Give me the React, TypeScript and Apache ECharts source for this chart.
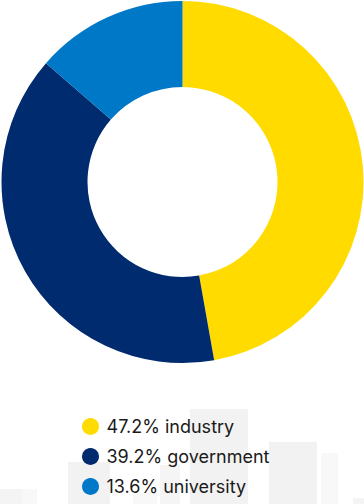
import React, { useEffect, useRef } from "react";
import * as echarts from "echarts";

const categories = ["industry", "government", "university"];
const values = [47.2, 39.2, 13.6];
const colors = ["#FFDB00", "#002B6E", "#0078C8"];

// decorative background blocks at the bottom: [x, y, w, h, color]
const blocks: [number, number, number, number, string][] = [
  [0, 489, 22, 15, "#f4f4f4"],
  [22, 489, 15, 15, "#f8f8f8"],
  [68, 462, 42, 42, "#f2f2f2"],
  [133, 493, 24, 11, "#f8f8f8"],
  [160, 465, 20, 39, "#f5f5f5"],
  [190, 409, 58, 95, "#f2f2f2"],
  [269, 442, 48, 62, "#f2f2f2"],
  [321, 453, 17, 51, "#f8f8f8"],
  [353, 498, 11, 6, "#f4f4f4"],
];

export default function App() {
  const ref = useRef<HTMLDivElement>(null);
  useEffect(() => {
    if (!ref.current) return;
    const chart = echarts.init(ref.current, null, { renderer: "svg" });
    const data = categories.map((name, i) => ({
      name,
      value: values[i],
      itemStyle: { color: colors[i] },
    }));
    chart.setOption({
      animation: false,
      backgroundColor: "#ffffff",
      graphic: blocks.map(([x, y, w, h, c]) => ({
        type: "rect",
        z: -10,
        silent: true,
        shape: { x, y, width: w, height: h },
        style: { fill: c },
      })),
      legend: {
        orient: "vertical",
        left: 82,
        top: 417.5,
        padding: 0,
        itemWidth: 22,
        itemHeight: 17,
        itemGap: 12,
        icon: "circle",
        selectedMode: false,
        data: categories,
        formatter: (name: string) => {
          const i = categories.indexOf(name);
          return `${values[i].toFixed(1)}% ${name}`;
        },
        textStyle: {
          fontFamily: "Inter",
          fontSize: 18,
          lineHeight: 17,
          color: "#1a1a1a",
          padding: [0, 0, 0, 0],
        },
      },
      series: [
        {
          type: "pie",
          center: [182.5, 182],
          radius: [95, 181],
          startAngle: 90,
          clockwise: true,
          label: { show: false },
          labelLine: { show: false },
          emphasis: { disabled: true },
          itemStyle: { borderWidth: 0 },
          data,
        },
      ],
    });
    return () => chart.dispose();
  }, []);
  return (
    <div
      ref={ref}
      style={{ position: "fixed", left: 0, top: 0, width: 364, height: 504 }}
    />
  );
}
